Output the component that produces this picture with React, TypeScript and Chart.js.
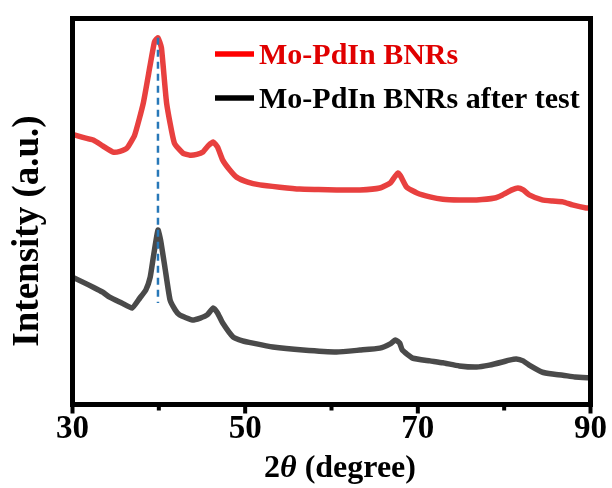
import React, { useEffect, useRef } from "react";
import { Chart, registerables } from "chart.js";

Chart.register(...registerables);

// 2θ positions and intensities (a.u.)
const redTheta = [30, 31.2, 32.4, 33.5, 34.7, 35.5, 36.3, 37.2, 38.2, 39.0, 39.5, 39.9, 40.3, 40.9, 41.8, 42.8, 43.6, 44.4, 45.1, 45.7, 46.3, 46.8, 47.4, 48.2, 49.0, 50.3, 51.7, 54.0, 56.3, 58.5, 60.6, 63.3, 65.6, 66.8, 67.3, 67.7, 68.0, 68.7, 69.9, 71.4, 72.9, 74.8, 76.8, 78.9, 79.8, 80.9, 81.6, 82.2, 82.9, 84.4, 85.6, 86.8, 87.9, 89.5, 90];
const redIntensity = [70.0, 69.2, 68.5, 67.0, 65.4, 65.6, 66.4, 69.8, 78.1, 88.0, 94.0, 95.0, 92.4, 78.1, 67.7, 65.1, 64.6, 64.8, 65.4, 67.0, 68.0, 66.7, 63.3, 60.8, 58.9, 57.6, 56.9, 56.3, 55.8, 55.7, 55.6, 55.6, 56.1, 57.4, 58.9, 60.0, 59.2, 56.3, 54.8, 53.8, 53.2, 53.0, 53.0, 53.5, 54.3, 55.6, 56.1, 55.6, 54.3, 53.0, 52.7, 52.5, 51.7, 50.9, 50.9];

const grayTheta = [30, 31.2, 32.4, 33.5, 34.3, 35.7, 36.9, 37.8, 38.5, 39.0, 39.4, 39.9, 40.2, 40.7, 41.3, 41.9, 42.4, 43.9, 44.8, 45.6, 46.3, 46.8, 47.4, 48.6, 49.7, 50.9, 53.2, 56.7, 60.6, 63.3, 65.6, 66.8, 67.4, 67.9, 68.2, 69.4, 71.4, 72.9, 74.8, 76.8, 78.3, 79.8, 80.6, 81.4, 82.2, 82.9, 84.4, 85.6, 86.8, 88.2, 90];
const grayIntensity = [33.0, 31.7, 30.4, 29.1, 27.8, 26.3, 25.0, 27.6, 29.7, 33.0, 38.7, 45.2, 42.6, 35.6, 27.1, 24.5, 23.2, 21.9, 22.4, 23.2, 25.0, 23.7, 21.1, 17.5, 16.5, 15.9, 14.9, 14.1, 13.6, 14.1, 14.6, 15.7, 16.7, 15.9, 14.1, 12.0, 11.3, 10.8, 10.0, 9.7, 10.2, 11.0, 11.5, 11.8, 11.3, 10.2, 8.4, 7.9, 7.6, 7.1, 6.9];

// dashed reference line at the main peak
const peakTheta = [39.9, 39.9];
const peakIntensity = [95.0, 26.3];

const seriesNames = ["Mo-PdIn BNRs", "Mo-PdIn BNRs after test"];
const xTickValues = [30, 40, 50, 60, 70, 80, 90];
const xTickLabels = [30, 50, 70, 90];
const xTitle = ["2", "θ", " (degree)"];
const yTitle = "Intensity (a.u.)";

const FONT = "'Liberation Serif', 'Times New Roman', serif";

const toPoints = (xs: number[], ys: number[]) => xs.map((x, i) => ({ x, y: ys[i] }));

const decorPlugin = {
  id: "decor",
  afterDraw(chart: any) {
    const { ctx, chartArea } = chart;
    const { left, right, top, bottom } = chartArea;
    const xs = chart.scales.x;
    ctx.save();
    // frame
    ctx.strokeStyle = "#000";
    ctx.lineWidth = 5;
    ctx.strokeRect(left, top, right - left, bottom - top);
    // tick marks
    ctx.lineWidth = 4;
    xTickValues.forEach((v) => {
      const px = xs.getPixelForValue(v);
      const len = xTickLabels.includes(v) ? 9 : 6;
      ctx.beginPath();
      ctx.moveTo(px, bottom);
      ctx.lineTo(px, bottom + len);
      ctx.stroke();
    });
    // legend
    const legendItems = [
      { name: seriesNames[0], line: "#ff0000", text: "#e00000", y: 54 },
      { name: seriesNames[1], line: "#000000", text: "#000000", y: 98 },
    ];
    legendItems.forEach((it) => {
      ctx.strokeStyle = it.line;
      ctx.lineWidth = 5.5;
      ctx.beginPath();
      ctx.moveTo(215, it.y);
      ctx.lineTo(254, it.y);
      ctx.stroke();
      ctx.fillStyle = it.text;
      ctx.font = `bold 30px ${FONT}`;
      ctx.textAlign = "left";
      ctx.textBaseline = "alphabetic";
      ctx.fillText(it.name, 259, it.y + 10);
    });
    // x title
    ctx.fillStyle = "#000";
    ctx.textBaseline = "alphabetic";
    ctx.textAlign = "left";
    const fonts = [`bold 32px ${FONT}`, `italic bold 32px ${FONT}`, `bold 32px ${FONT}`];
    let total = 0;
    xTitle.forEach((t, i) => {
      ctx.font = fonts[i];
      total += ctx.measureText(t).width;
    });
    let cx = 340 - total / 2;
    xTitle.forEach((t, i) => {
      ctx.font = fonts[i];
      ctx.fillText(t, cx, 477);
      cx += ctx.measureText(t).width;
    });
    // y title
    ctx.save();
    ctx.translate(38, 231);
    ctx.rotate(-Math.PI / 2);
    ctx.font = `bold 37px ${FONT}`;
    ctx.textAlign = "center";
    ctx.textBaseline = "alphabetic";
    ctx.fillText(yTitle, 0, 0);
    ctx.restore();
    ctx.restore();
  },
};

export default function App() {
  const ref = useRef<HTMLCanvasElement | null>(null);
  useEffect(() => {
    if (!ref.current) return;
    const chart = new Chart(ref.current, {
      type: "line",
      data: {
        datasets: [
          {
            label: "peak",
            data: toPoints(peakTheta, peakIntensity),
            borderColor: "#2878b8",
            borderWidth: 2.5,
            borderDash: [7, 5],
            pointRadius: 0,
            order: 0,
          },
          {
            label: seriesNames[0],
            data: toPoints(redTheta, redIntensity),
            borderColor: "#e8403f",
            borderWidth: 5.5,
            pointRadius: 0,
            tension: 0.15,
            order: 1,
          },
          {
            label: seriesNames[1],
            data: toPoints(grayTheta, grayIntensity),
            borderColor: "#4a4a4a",
            borderWidth: 5.5,
            pointRadius: 0,
            tension: 0.15,
            order: 1,
          },
        ],
      },
      options: {
        animation: false,
        responsive: false,
        devicePixelRatio: 1,
        layout: { padding: { left: 72.5, right: 21, top: 18.5, bottom: 0 } },
        plugins: { legend: { display: false }, tooltip: { enabled: false } },
        scales: {
          x: {
            type: "linear",
            min: 30,
            max: 90,
            afterBuildTicks: (scale: any) => {
              scale.ticks = xTickValues.map((v) => ({ value: v }));
            },
            afterFit: (scale: any) => {
              scale.height = 83.5;
            },
            ticks: {
              autoSkip: false,
              maxRotation: 0,
              padding: 5,
              color: "#000",
              font: { family: FONT, weight: "bold", size: 33 },
              callback: (v: any) => (xTickLabels.includes(Number(v)) ? String(v) : ""),
            },
            grid: { display: false, drawTicks: false },
            border: { display: false },
          },
          y: {
            type: "linear",
            min: 0,
            max: 100,
            display: false,
          },
        },
      },
      plugins: [decorPlugin],
    } as any);
    return () => chart.destroy();
  }, []);
  return (
    <div style={{ position: "fixed", left: 0, top: 0, width: 612, height: 488, background: "#fff" }}>
      <canvas ref={ref} width={612} height={488} style={{ display: "block" }} />
    </div>
  );
}
